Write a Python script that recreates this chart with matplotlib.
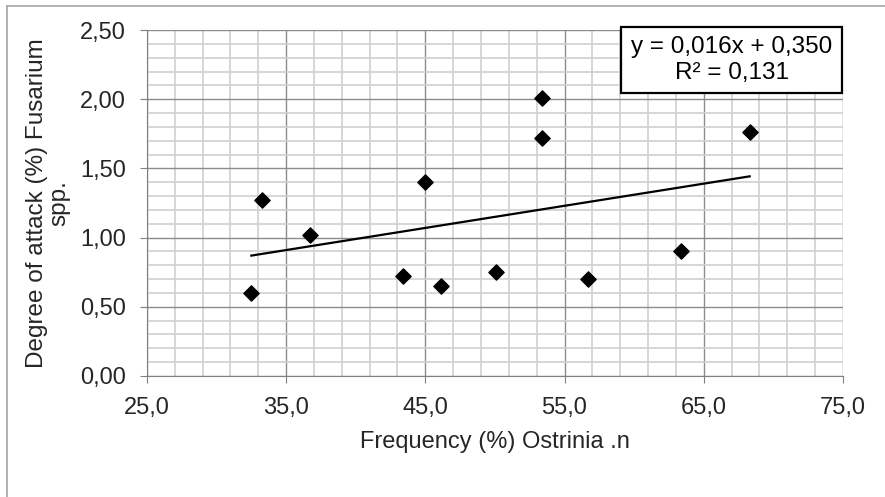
import matplotlib.pyplot as plt
from matplotlib.ticker import FuncFormatter
from matplotlib.patches import Rectangle
from matplotlib.lines import Line2D
import numpy as np

plt.rcParams['font.family'] = ['Liberation Sans', 'DejaVu Sans']

# frequency of Ostrinia (%) vs degree of attack by Fusarium (%)
frequency = [32.5, 33.3, 36.7, 43.4, 45.0, 46.1, 50.1, 53.4, 53.4, 56.7, 63.4, 68.3]
attack = [0.60, 1.27, 1.02, 0.72, 1.40, 0.65, 0.75, 2.01, 1.72, 0.70, 0.90, 1.76]

slope = 0.016
intercept = 0.350
r2 = 0.131

txt = '#262626'

fig = plt.figure(figsize=(8.85, 4.97), dpi=100)
ax = fig.add_axes([0.166, 0.2435, 0.7865, 0.696])

# chart frame: only the top and left edges fall inside the image
W, H = 885, 497
fig.add_artist(Line2D([7 / W, 7 / W], [0, 1 - 6 / H], transform=fig.transFigure,
                      color='#a6a6a6', linewidth=1.2))
fig.add_artist(Line2D([7 / W, 1], [1 - 6 / H, 1 - 6 / H], transform=fig.transFigure,
                      color='#a6a6a6', linewidth=1.2))

ax.scatter(frequency, attack, marker='D', s=60, color='black', zorder=3)

xs = np.array([min(frequency), max(frequency)])
ax.plot(xs, slope * xs + intercept, color='black', linewidth=1.6, zorder=3)

ax.set_xlim(25, 75)
ax.set_ylim(0, 2.5)
ax.set_xticks(np.arange(25, 75.1, 10))
ax.set_xticks(np.arange(25, 75.1, 2), minor=True)
ax.set_yticks(np.arange(0, 2.51, 0.5))
ax.set_yticks(np.arange(0, 2.51, 0.1), minor=True)
ax.xaxis.set_major_formatter(FuncFormatter(lambda v, p: f'{v:.1f}'.replace('.', ',')))
ax.yaxis.set_major_formatter(FuncFormatter(lambda v, p: f'{v:.2f}'.replace('.', ',')))

ax.grid(which='minor', color='#d0d0d0', linewidth=1.2)
ax.grid(which='major', color='#8c8c8c', linewidth=1)
ax.set_axisbelow(True)

for side in ['top', 'right']:
    ax.spines[side].set_visible(False)
ax.spines['left'].set_color('#808080')
ax.spines['bottom'].set_color('#808080')
ax.tick_params(which='major', length=5, color='#808080', labelsize=17, labelcolor=txt, pad=10)
ax.tick_params(which='minor', length=0)

ax.set_xlabel('Frequency (%) Ostrinia .n', fontsize=17, color=txt, labelpad=9)
ax.set_ylabel('Degree of attack (%) Fusarium\nspp.', fontsize=17.5, color=txt, labelpad=7,
              linespacing=1.05)

# equation box
ax.add_patch(Rectangle((0.681, 0.818), 0.3176, 0.19, transform=ax.transAxes, clip_on=False,
                       facecolor='white', edgecolor='black', linewidth=1.6, zorder=4))
ax.text(0.8405, 0.913, f'y = {slope:.3f}x + {intercept:.3f}\nR² = {r2:.3f}'.replace('.', ','),
        transform=ax.transAxes, ha='center', va='center', fontsize=17.5, linespacing=1.2,
        zorder=5)

fig.savefig('out.png', dpi=100)
